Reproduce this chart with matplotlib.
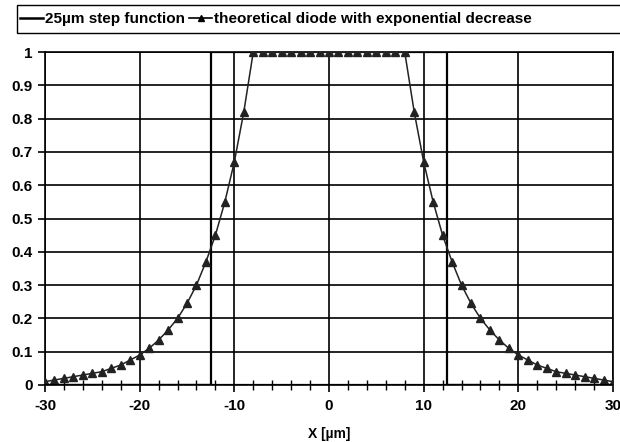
import matplotlib
matplotlib.use("Agg")
import matplotlib.pyplot as plt
from matplotlib.patches import Rectangle
from matplotlib.lines import Line2D

plt.rcParams['font.family'] = ['Liberation Sans', 'DejaVu Sans']
plt.rcParams['font.weight'] = 'bold'
plt.rcParams['axes.unicode_minus'] = False

# 25 µm step function
step_x = [-30, -12.5, -12.5, 12.5, 12.5, 30]
step_y = [0, 0, 1, 1, 0, 0]

# theoretical diode with exponential decrease (1 µm sampling)
diode_x = list(range(-30, 31))
diode_y = [0.010, 0.015, 0.020, 0.025, 0.030, 0.035, 0.040, 0.050, 0.060, 0.075,
           0.090, 0.110, 0.135, 0.165, 0.200, 0.245, 0.300, 0.370, 0.450, 0.550,
           0.670, 0.820,
           1, 1, 1, 1, 1, 1, 1, 1, 1, 1, 1, 1, 1, 1, 1, 1, 1,
           0.820, 0.670,
           0.550, 0.450, 0.370, 0.300, 0.245, 0.200, 0.165, 0.135, 0.110, 0.090,
           0.075, 0.060, 0.050, 0.040, 0.035, 0.030, 0.025, 0.020, 0.015, 0.010]

x_ticks = [-30, -20, -10, 0, 10, 20, 30]
y_ticks = [0, 0.1, 0.2, 0.3, 0.4, 0.5, 0.6, 0.7, 0.8, 0.9, 1]
y_labels = ['0', '0.1', '0.2', '0.3', '0.4', '0.5', '0.6', '0.7', '0.8', '0.9', '1']

fig = plt.figure(figsize=(6.2, 4.42), dpi=100)
ax = fig.add_axes([45/620, 57/442, (613-45)/620, (385-52)/442])

ax.set_xlim(-30, 30)
ax.set_ylim(0, 1)
ax.set_xticks(x_ticks)
ax.set_xticks(list(range(-28, 30, 2)), minor=True)
ax.set_yticks(y_ticks)
ax.set_yticklabels(y_labels)
ax.grid(True, which='major', color='black', linewidth=1.2)
ax.set_axisbelow(True)

for s in ax.spines.values():
    s.set_color('black')
    s.set_linewidth(1.2)

ax.plot(step_x, step_y, color='black', linewidth=1.6, zorder=3)
ax.plot(diode_x, diode_y, color='#222222', linewidth=1.1, marker='^',
        markersize=5.5, zorder=4)

# Excel-style x axis through y=0 with crossing minor ticks
ax.axhline(0, color='black', linewidth=1.6, zorder=5)
ax.tick_params(axis='x', which='major', direction='out', length=5, width=1.2,
               labelsize=11, pad=5)
ax.tick_params(axis='x', which='minor', direction='inout', length=7, width=1.0)
ax.tick_params(axis='y', which='major', direction='out', length=5, width=1.2,
               labelsize=11, pad=4)
for lab in ax.get_xticklabels() + ax.get_yticklabels():
    lab.set_fontweight('bold')

ax.set_xlabel('X [µm]', fontsize=10, fontweight='bold', labelpad=10)

# legend box across the top
fig.patches.append(Rectangle((17/620, 1 - 33/442), 612/620, 28/442,
                             transform=fig.transFigure, fill=False,
                             edgecolor='black', linewidth=1.0))
handles = [Line2D([], [], color='black', linewidth=1.8),
           Line2D([], [], color='black', linewidth=1.2, marker='^', markersize=5)]
fig.legend(handles, ['25µm step function', 'theoretical diode with exponential decrease'],
           loc='center left', bbox_to_anchor=(17/620, 1 - 19/442), ncol=2,
           frameon=False, handlelength=1.5, handletextpad=0.15,
           columnspacing=0.25, borderaxespad=0, borderpad=0.2,
           prop={'weight': 'bold', 'size': 11})

fig.savefig('out.png', dpi=100)
